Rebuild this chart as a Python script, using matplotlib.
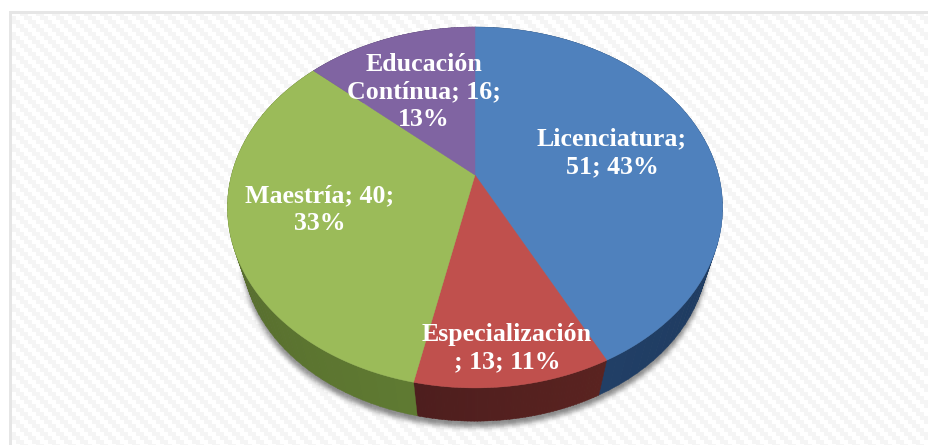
import matplotlib
matplotlib.use("Agg")
import matplotlib.pyplot as plt
import numpy as np
from matplotlib.path import Path

categories = ["Licenciatura", "Especialización", "Maestría", "Educación Contínua"]
values = [51, 13, 40, 16]
labels = ["Licenciatura;\n51; 43%", "Especialización\n; 13; 11%", "Maestría; 40;\n33%", "Educación\nContínua; 16;\n13%"]
label_pos = [(612, 153), (507, 348), (320, 210), (424, 92)]
top_colors = ["#4f81bd", "#c0504d", "#9bbb59", "#8064a2"]
side_colors = [("#17304f", "#213f66"), ("#5a2320", "#4e1e1e"), ("#5f7a32", "#4f6029"), ("#4c3c61", "#4c3c61")]

W, H = 929, 445
CX, CY = 475, 175   # apex of the pie in pixels
A, B, K = 243.5, 174.6, 0.18   # perspective circle
BOTTOM_SCALE, BOTTOM_DY = 0.94, 46


def project(theta, scale=1.0, dy=0.0):
    u, v = np.sin(theta), np.cos(theta)
    w = 1 + K * v
    return CX + scale * A * u / w, CY + dy - scale * B * v / w


def blur(img, n):
    kernel = np.ones(n) / n
    for _ in range(3):
        img = np.apply_along_axis(lambda r: np.convolve(r, kernel, mode="same"), 0, img)
        img = np.apply_along_axis(lambda r: np.convolve(r, kernel, mode="same"), 1, img)
    return img


fig = plt.figure(figsize=(W / 100, H / 100), dpi=100)
ax = fig.add_axes([0, 0, 1, 1])
ax.set_xlim(0, W)
ax.set_ylim(H, 0)
ax.axis("off")

# carbon style background
yy, xx = np.mgrid[0:H, 0:W]
bg = np.where(((xx // 4) - (yy // 4)) % 4 < 2, 1.0, 0.96)
bg[:11, :] = 1.0
bg[:, :9] = 1.0
bg[11:14, 9:] = 0.9
bg[11:, 9:12] = 0.9
ax.imshow(bg, cmap="gray", vmin=0, vmax=1, extent=(0, W, H, 0), zorder=0, interpolation="nearest", aspect="auto")

# soft shadow under the pie
t = np.linspace(0, 2 * np.pi, 361)
sx, sy = project(t, BOTTOM_SCALE, BOTTOM_DY + 6)
pts = np.column_stack([xx.ravel() + 0.5, yy.ravel() + 0.5])
mask = Path(np.column_stack([sx, sy])).contains_points(pts).reshape(H, W).astype(float)
shadow = np.zeros((H, W, 4))
shadow[..., 3] = blur(mask, 5) * 0.45
ax.imshow(shadow, extent=(0, W, H, 0), zorder=1, aspect="auto")

angles = np.concatenate([[0], np.cumsum(values)]) / sum(values) * 2 * np.pi

# side wall, shaded along the arc
for i in range(len(values)):
    a0, a1 = angles[i], angles[i + 1]
    edges = np.linspace(a0, a1, 60)
    c0 = np.array(matplotlib.colors.to_rgb(side_colors[i][0]))
    c1 = np.array(matplotlib.colors.to_rgb(side_colors[i][1]))
    for j in range(len(edges) - 1):
        seg = np.array([edges[j], edges[j + 1] + 0.002])
        tx, ty = project(seg)
        bx, by = project(seg[::-1], BOTTOM_SCALE, BOTTOM_DY)
        f = j / (len(edges) - 2)
        ax.fill(np.r_[tx, bx], np.r_[ty, by], color=c1 * f + c0 * (1 - f), lw=0.3, zorder=2)

# top faces
for i in range(len(values)):
    arc = np.linspace(angles[i], angles[i + 1], 200)
    x, y = project(arc)
    ax.fill(np.r_[CX, x], np.r_[CY, y], color=top_colors[i], lw=0.3, zorder=3)

for lab, (x, y) in zip(labels, label_pos):
    ax.text(x, y, lab, color="white", family="Liberation Serif", weight="bold",
            fontsize=18.6, ha="center", va="center", linespacing=1.26, zorder=4)

fig.savefig("out.png", dpi=100)
